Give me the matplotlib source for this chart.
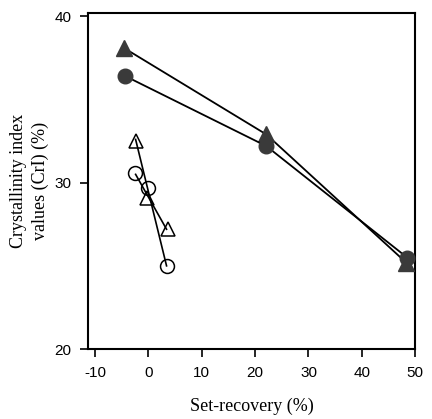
import matplotlib
matplotlib.use("Agg")
import matplotlib.pyplot as plt

plt.rcParams["axes.unicode_minus"] = False

# Set-recovery (%) vs crystallinity index (%)
filled_tri_x = [-4.6, 22.1, 48.3]
filled_tri_y = [38.1, 32.9, 25.2]
filled_circ_x = [-4.3, 22.1, 48.5]
filled_circ_y = [36.4, 32.2, 25.5]
open_tri_x = [-2.4, -0.3, 3.6]
open_tri_y = [32.5, 29.1, 27.2]
open_circ_x = [-2.5, 0.0, 3.5]
open_circ_y = [30.6, 29.7, 25.0]
# straight lines through the open symbols, as drawn in the original
line_a_x = [-2.4, 3.4]
line_a_y = [32.6, 25.0]
line_b_x = [-2.4, 3.4]
line_b_y = [30.5, 27.2]

xticks = [-10, 0, 10, 20, 30, 40, 50]
yticks = [20, 30, 40]

fig = plt.figure(figsize=(4.32, 4.19), dpi=100)
ax = fig.add_axes([0.204, 0.167, 0.757, 0.802])

dark = "#3a3a3a"
ax.plot(filled_tri_x, filled_tri_y, color="black", lw=1.3, marker="^", ms=11,
        mfc=dark, mec=dark, zorder=3)
ax.plot(filled_circ_x, filled_circ_y, color="black", lw=1.3, marker="o", ms=10.5,
        mfc=dark, mec=dark, zorder=3)
ax.plot(line_a_x, line_a_y, color="black", lw=1.2, zorder=2)
ax.plot(line_b_x, line_b_y, color="black", lw=1.2, zorder=2)
ax.plot(open_tri_x, open_tri_y, ls="none", marker="^", ms=10,
        mfc="none", mec="black", mew=1.1, zorder=3)
ax.plot(open_circ_x, open_circ_y, ls="none", marker="o", ms=10,
        mfc="none", mec="black", mew=1.1, zorder=3)

ax.set_xlim(-11.3, 49.4)
ax.set_ylim(20, 40.2)
ax.set_xticks(xticks)
ax.set_yticks(yticks)
for s in ax.spines.values():
    s.set_linewidth(1.5)
ax.tick_params(direction="out", length=6, width=1.2, labelsize=11, pad=6)
for lab in ax.get_xticklabels() + ax.get_yticklabels():
    lab.set_family("Liberation Sans")

ax.set_xlabel("Set-recovery (%)", family="Liberation Serif", fontsize=13, labelpad=13)
ax.set_ylabel("Crystallinity index\nvalues (CrI) (%)", family="Liberation Serif",
              fontsize=13, labelpad=4, linespacing=1.35)

fig.savefig("out.png", dpi=100)
